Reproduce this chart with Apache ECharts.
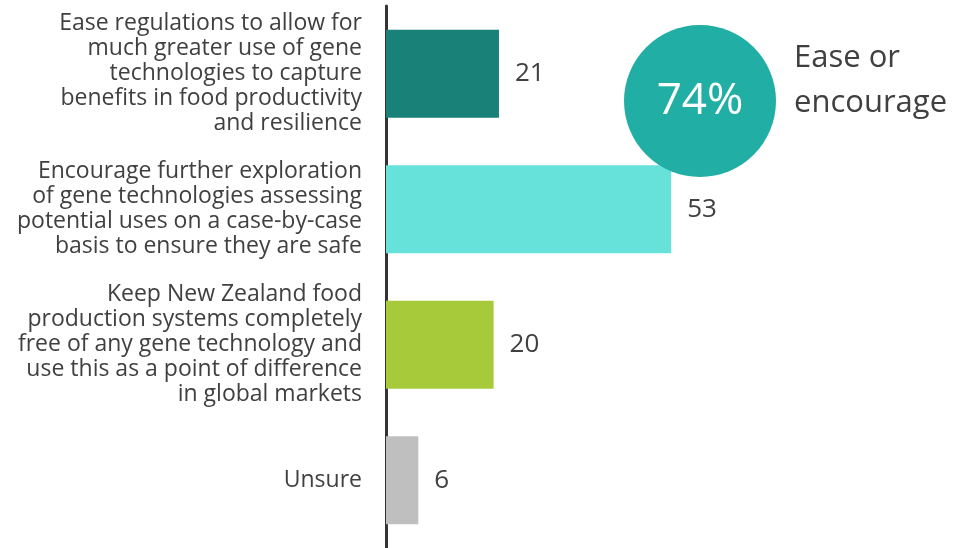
<!DOCTYPE html>
<html>
<head>
<meta charset="utf-8">
<script src="https://cdn.jsdelivr.net/npm/echarts@6/dist/echarts.min.js"></script>
<style>html,body{margin:0;padding:0;background:#fff;}#c{width:955px;height:548px;}</style>
</head>
<body>
<div id="c"></div>
<script>
const categories = [
  "Ease regulations to allow for\nmuch greater use of gene\ntechnologies to capture\nbenefits in food productivity\nand resilience",
  "Encourage further exploration\nof gene technologies assessing\npotential uses on a case-by-case\nbasis to ensure they are safe",
  "Keep New Zealand food\nproduction systems completely\nfree of any gene technology and\nuse this as a point of difference\nin global markets",
  "Unsure"
];
const values = [21, 53, 20, 6];
const barColors = ["#1a8179", "#66e2da", "#a6ca3a", "#bfbfbf"];
const calloutValue = "74%";
const calloutText = "Ease or\nencourage";

const chart = echarts.init(document.getElementById('c'));
const font = "'Open Sans', sans-serif";
chart.setOption({
  animation: false,
  grid: { left: 386, right: 31, top: 6, bottom: -2, containLabel: false },
  xAxis: { type: 'value', min: 0, max: 100, show: false },
  yAxis: {
    type: 'category', data: categories, inverse: true,
    axisLine: { show: true, lineStyle: { color: '#333333', width: 3 } },
    axisTick: { show: false },
    axisLabel: { margin: 24, fontSize: 23, lineHeight: 25, color: '#404040', fontFamily: font, align: 'right' }
  },
  series: [{
    type: 'bar', barWidth: 88,
    data: values.map((v, i) => ({ value: v, itemStyle: { color: barColors[i] } })),
    label: { show: true, position: 'right', distance: 16, fontSize: 26, color: '#404040', fontFamily: font }
  }],
  graphic: [
    { type: 'circle', shape: { cx: 700, cy: 101, r: 76 }, style: { fill: '#21aea5' }, z: 10 },
    { type: 'text', x: 700, y: 101, z: 11, style: { text: calloutValue, fill: '#ffffff', font: "44px " + font, textAlign: 'center', textVerticalAlign: 'middle' } },
    { type: 'text', x: 794, y: 81, z: 11, style: { text: calloutText, fill: '#404040', font: "31px " + font, lineHeight: 45, textAlign: 'left', textVerticalAlign: 'middle' } }
  ]
});
</script>
</body>
</html>
